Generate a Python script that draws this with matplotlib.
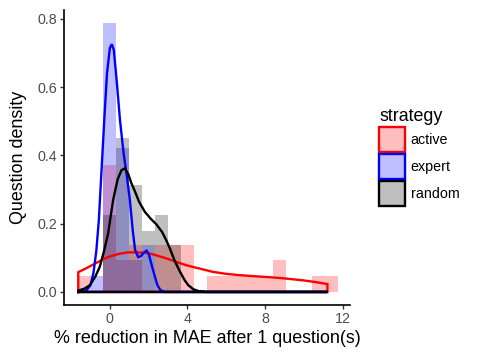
import matplotlib
matplotlib.use("Agg")
import matplotlib.pyplot as plt
from matplotlib.patches import Patch

plt.rcParams['font.family'] = ['Liberation Sans', 'DejaVu Sans']

# ---- data ----
strategies = ["active", "expert", "random"]
colors = ["#FF0000", "#0000FF", "#000000"]

bin_width = 0.671
bin_centers = [-1.342, -0.671, 0.0, 0.671, 1.342, 2.013, 2.684, 3.355, 4.026, 4.697,
               5.368, 6.039, 6.71, 7.381, 8.052, 8.723, 9.394, 10.065, 10.736, 11.407]

hist_active = [0.047, 0, 0.372, 0.094, 0.138, 0, 0.138, 0.138, 0.138, 0,
               0.047, 0.047, 0.047, 0.047, 0.047, 0.094, 0, 0, 0.047, 0.047]
hist_expert = [0, 0.047, 0.787, 0.421, 0.094, 0.138, 0, 0, 0, 0,
               0, 0, 0, 0, 0, 0, 0, 0, 0, 0]
hist_random = [0, 0, 0.226, 0.450, 0.314, 0.179, 0.226, 0.138, 0, 0,
               0, 0, 0, 0, 0, 0, 0, 0, 0, 0]

dens_active_x = [-1.63, -1.2, -0.8, -0.34, 0.0, 0.5, 0.94, 1.4, 1.89, 2.23, 2.7, 3.09,
                 3.44, 3.9, 4.3, 4.81, 5.3, 6.0, 6.53, 7.22, 7.74, 8.3, 8.94, 9.46,
                 9.97, 10.6, 11.22]
dens_active_y = [0.058, 0.07, 0.082, 0.096, 0.104, 0.112, 0.116, 0.116, 0.114, 0.110,
                 0.102, 0.095, 0.088, 0.079, 0.073, 0.066, 0.059, 0.053, 0.050, 0.047,
                 0.045, 0.043, 0.040, 0.037, 0.034, 0.029, 0.023]

dens_expert_x = [-1.63, -1.4, -1.2, -1.0, -0.85, -0.7, -0.57, -0.43, -0.29, -0.15, 0.0,
                 0.1, 0.2, 0.35, 0.52, 0.7, 0.86, 1.03, 1.18, 1.3, 1.46, 1.6, 1.75,
                 1.89, 2.0, 2.15, 2.32, 2.45, 2.6, 2.8, 3.2, 11.22]
dens_expert_y = [0.0, 0.001, 0.005, 0.02, 0.055, 0.12, 0.21, 0.357, 0.504, 0.64, 0.715,
                 0.726, 0.71, 0.62, 0.504, 0.41, 0.345, 0.27, 0.18, 0.123, 0.102, 0.105,
                 0.115, 0.121, 0.112, 0.08, 0.045, 0.02, 0.006, 0.0, 0.0, 0.0]

dens_random_x = [-1.63, -1.3, -1.03, -0.75, -0.52, -0.3, -0.09, 0.17, 0.4, 0.6, 0.77,
                 0.95, 1.1, 1.29, 1.5, 1.8, 2.1, 2.4, 2.7, 2.92, 3.09, 3.35, 3.61,
                 3.85, 4.04, 4.3, 4.6, 5.0, 11.22]
dens_random_y = [0.004, 0.01, 0.02, 0.045, 0.074, 0.12, 0.172, 0.27, 0.33, 0.357, 0.362,
                 0.345, 0.32, 0.295, 0.265, 0.235, 0.215, 0.198, 0.175, 0.15, 0.128,
                 0.09, 0.06, 0.035, 0.02, 0.008, 0.002, 0.0, 0.0]

x_ticks = [0, 4, 8, 12]
y_ticks = [0.0, 0.2, 0.4, 0.6, 0.8]

# ---- plot ----
fig = plt.figure(figsize=(4.8, 3.6), dpi=100)
ax = fig.add_axes([0.134, 0.153, 0.595, 0.819])

hists = [hist_active, hist_expert, hist_random]
dens = [(dens_active_x, dens_active_y), (dens_expert_x, dens_expert_y),
        (dens_random_x, dens_random_y)]

for h, c in zip(hists, colors):
    ax.bar(bin_centers, h, width=bin_width, color=c, alpha=0.25, linewidth=0, zorder=2)

for (dx, dy), c in zip(dens, colors):
    px = [dx[0]] + list(dx) + [dx[-1], dx[0]]
    py = [0.0] + list(dy) + [0.0, 0.0]
    ax.plot(px, py, color=c, linewidth=1.7, solid_joinstyle='miter', zorder=3)

ax.set_xlim(-2.35, 12.38)
ax.set_ylim(-0.038, 0.826)
ax.set_xticks(x_ticks)
ax.set_xticklabels([str(t) for t in x_ticks])
ax.set_yticks(y_ticks)
ax.set_yticklabels([f"{t:.1f}" for t in y_ticks])

for s in ["top", "right"]:
    ax.spines[s].set_visible(False)
for s in ["left", "bottom"]:
    ax.spines[s].set_linewidth(1.2)
    ax.spines[s].set_color("black")

ax.tick_params(axis="both", length=3, width=1, color="#333333",
               labelcolor="#4D4D4D", labelsize=10.3, pad=2)

ax.set_xlabel("% reduction in MAE after 1 question(s)", fontsize=12.9, color="black", labelpad=3)
ax.set_ylabel("Question density", fontsize=12.9, color="black", labelpad=7.5)

handles = [Patch(facecolor=matplotlib.colors.to_rgba(c, 0.25), edgecolor=c, linewidth=1.7)
           for c in colors]
leg = fig.legend(handles, strategies, title="strategy", loc="upper left",
                 bbox_to_anchor=(379 / 480, 1 - 108 / 360), frameon=False,
                 fontsize=10.3, title_fontsize=12.9, handlelength=1.82, handleheight=2.35,
                 labelspacing=0.12, handletextpad=0.4, borderpad=0, borderaxespad=0)
leg._legend_box.align = "left"

fig.savefig("out.png", dpi=100)
